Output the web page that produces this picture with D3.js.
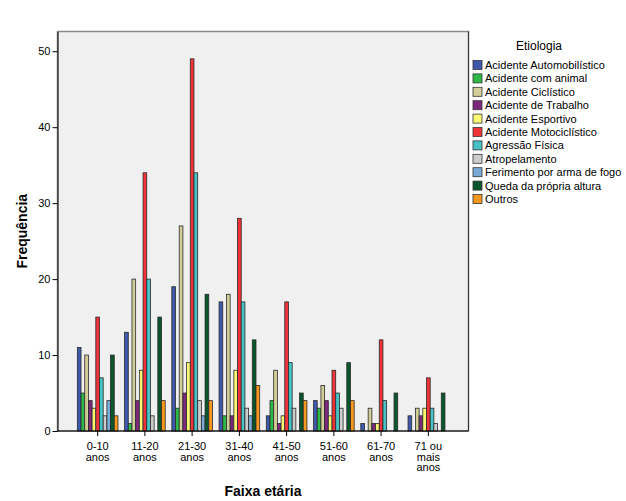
<!DOCTYPE html>
<html lang="pt">
<head>
<meta charset="utf-8">
<title>Etiologia por faixa etária</title>
<script src="https://d3js.org/d3.v7.min.js"></script>
<style>
body { margin: 0; background: #fff; }
text { font-family: "Liberation Sans", Arial, sans-serif; fill: #000; }
.axis text { font-size: 11px; }
.title { font-size: 14px; font-weight: bold; }
</style>
</head>
<body>
<div id="chart"></div>
<script>

// age groups (x categories)
var groups = ["0-10 anos", "11-20 anos", "21-30 anos", "31-40 anos",
  "41-50 anos", "51-60 anos", "61-70 anos", "71 ou mais anos"];

// wrapped tick labels
var groupLabels = [["0-10", "anos"], ["11-20", "anos"], ["21-30", "anos"], ["31-40", "anos"],
  ["41-50", "anos"], ["51-60", "anos"], ["61-70", "anos"], ["71 ou", "mais", "anos"]];

// series (etiologia)
var keys = ["Acidente Automobilístico", "Acidente com animal", "Acidente Ciclístico",
  "Acidente de Trabalho", "Acidente Esportivo", "Acidente Motociclístico",
  "Agressão Física", "Atropelamento", "Ferimento por arma de fogo",
  "Queda da própria altura", "Outros"];

var colorList = ["#3e58ac", "#2eb848", "#d3ce97", "#7c287d", "#fbf873", "#ef3338",
  "#48c2c5", "#cccccc", "#7aaad5", "#0a562c", "#f8981d"];

// frequencies, one array per series, in age-group order
var automobilistico = [11, 13, 19, 17, 2, 4, 1, 2];
var animal          = [5, 1, 3, 2, 4, 3, 0, 0];
var ciclistico      = [10, 20, 27, 18, 8, 6, 3, 3];
var trabalho        = [4, 4, 5, 2, 1, 4, 1, 2];
var esportivo       = [3, 8, 9, 8, 2, 2, 1, 3];
var motociclistico  = [15, 34, 49, 28, 17, 8, 12, 7];
var agressao        = [7, 20, 34, 17, 9, 5, 4, 3];
var atropelamento   = [2, 2, 4, 3, 3, 3, 0, 1];
var armaFogo        = [4, 0, 2, 2, 0, 0, 0, 0];
var queda           = [10, 15, 18, 12, 5, 9, 5, 5];
var outros          = [2, 4, 4, 6, 4, 4, 0, 0];

var yTicks = [0, 10, 20, 30, 40, 50];

var series = [automobilistico, animal, ciclistico, trabalho, esportivo, motociclistico,
  agressao, atropelamento, armaFogo, queda, outros];

var data = groups.map(function(g, i) {
  return { group: g, values: keys.map(function(k, j) { return { key: k, value: series[j][i] }; }) };
});

var W = 626, H = 501;
var plot = {left: 57.5, right: 468.5, top: 31.5, bottom: 431};

var svg = d3.select("#chart").append("svg")
  .attr("width", W).attr("height", H);

var color = d3.scaleOrdinal().domain(keys).range(colorList);

var x0 = d3.scaleBand().domain(groups).range([plot.left, plot.right])
  .paddingInner(0.14).paddingOuter(0.42);

var x1 = d3.scaleBand().domain(keys).range([0, x0.bandwidth()]);

var y = d3.scaleLinear().domain([0, 52.6]).range([plot.bottom, plot.top]);

// plot background
svg.append("rect")
  .attr("x", plot.left).attr("y", plot.top)
  .attr("width", plot.right - plot.left).attr("height", plot.bottom - plot.top)
  .style("fill", "#f0f0f0")
  .style("stroke", "#8a8a8a")
  .style("stroke-width", 1.5);

svg.append("line")
  .attr("x1", plot.right).attr("x2", plot.right).attr("y1", plot.top).attr("y2", plot.bottom)
  .style("stroke", "#333");

// bars
svg.append("g").selectAll("g")
  .data(data)
  .enter().append("g")
    .attr("transform", function(d) { return "translate(" + x0(d.group) + ",0)"; })
  .selectAll("rect")
  .data(function(d) { return d.values.filter(function(v) { return v.value > 0; }); })
  .enter().append("rect")
    .attr("x", function(d) { return x1(d.key); })
    .attr("y", function(d) { return y(d.value); })
    .attr("width", x1.bandwidth())
    .attr("height", function(d) { return plot.bottom - y(d.value); })
    .style("fill", function(d) { return color(d.key); })
    .style("stroke", "#2a2a2a")
    .style("stroke-width", 0.8);

// y axis
var yAxis = svg.append("g")
  .attr("class", "axis")
  .attr("transform", "translate(" + plot.left + ",0)")
  .call(d3.axisLeft(y).tickValues(yTicks).tickSize(5).tickPadding(2).tickSizeOuter(0));
yAxis.select(".domain").style("stroke", "#000");

// x axis
var xAxis = svg.append("g")
  .attr("class", "axis")
  .attr("transform", "translate(0," + plot.bottom + ")")
  .call(d3.axisBottom(x0).tickSize(5).tickSizeOuter(0).tickFormat(""));
xAxis.select(".domain").attr("d", "M" + plot.left + ",0H" + plot.right).style("stroke", "#000");

xAxis.selectAll(".tick").append("text")
  .attr("text-anchor", "middle")
  .attr("y", 19)
  .style("font-size", "11px")
  .each(function(d, i) {
    var t = d3.select(this);
    groupLabels[i].forEach(function(line, k) {
      t.append("tspan").attr("x", 0).attr("dy", k === 0 ? 0 : 10.5).text(line);
    });
  });

// axis titles
svg.append("text")
  .attr("class", "title")
  .attr("text-anchor", "middle")
  .attr("transform", "translate(27," + ((plot.top + plot.bottom) / 2) + ") rotate(-90)")
  .text("Frequência");

svg.append("text")
  .attr("class", "title")
  .attr("text-anchor", "middle")
  .attr("x", (plot.left + plot.right) / 2)
  .attr("y", 496)
  .text("Faixa etária");

// legend
var legend = svg.append("g");
legend.append("text")
  .attr("x", 539).attr("y", 50)
  .attr("text-anchor", "middle")
  .style("font-size", "12px")
  .text("Etiologia");

var item = legend.selectAll("g.item")
  .data(keys)
  .enter().append("g")
    .attr("class", "item")
    .attr("transform", function(d, i) { return "translate(473," + (60.5 + i * 13.4) + ")"; });

item.append("rect")
  .attr("width", 9).attr("height", 9)
  .style("fill", function(d) { return color(d); })
  .style("stroke", "#333")
  .style("stroke-width", 0.8);

item.append("text")
  .attr("x", 12).attr("y", 8.5)
  .style("font-size", "11px")
  .text(function(d) { return d; });

</script>
</body>
</html>
